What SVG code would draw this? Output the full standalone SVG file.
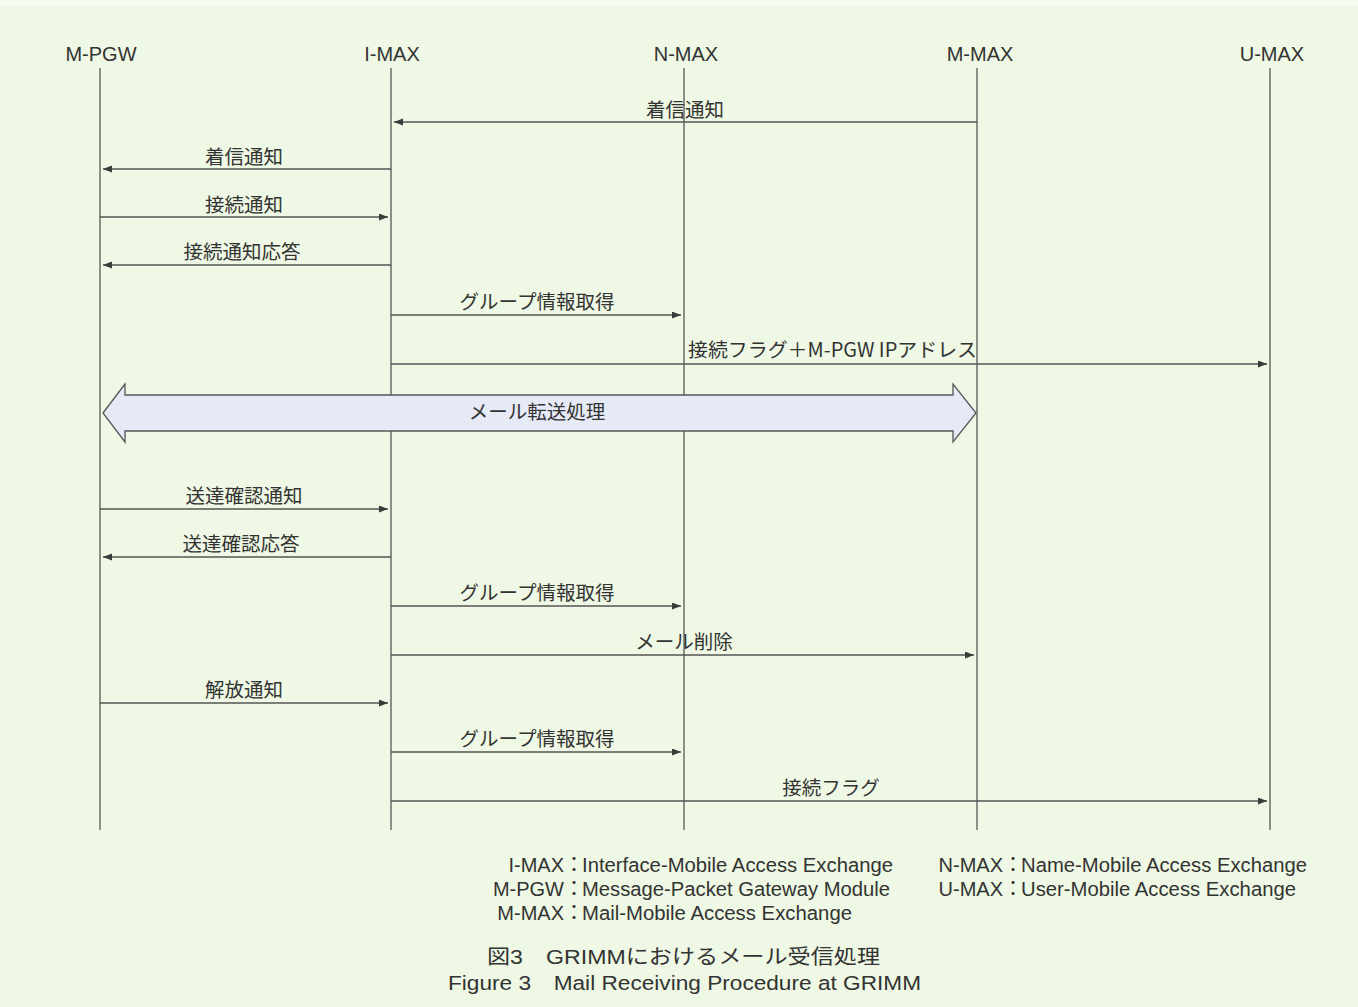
<svg xmlns="http://www.w3.org/2000/svg" width="1358" height="1007" viewBox="0 0 1358 1007">
<defs>
<marker id="ah" markerUnits="userSpaceOnUse" markerWidth="10" markerHeight="8" refX="9" refY="3.5" orient="auto">
<path d="M0,0 L9,3.5 L0,7 z" fill="#3a3a3a"/>
</marker>
<style>
.bg{fill:#eef8e4}
.life{stroke:#555;stroke-width:1.3;fill:none}
.msg{stroke:#555;stroke-width:1.3;fill:none;marker-end:url(#ah)}
.hdr{font-family:"Liberation Sans","Noto Sans CJK JP",sans-serif;font-size:20px;fill:#333;text-anchor:middle}
.lbl{font-family:"Noto Sans CJK JP","Liberation Sans",sans-serif;font-size:19.5px;fill:#333;text-anchor:middle}
.leg{font-family:"Liberation Sans","Noto Sans CJK JP",sans-serif;font-size:20px;fill:#333}
.cap{font-family:"Liberation Sans","Noto Sans CJK JP",sans-serif;font-size:20px;fill:#333}
.band{fill:#e6e9f6;stroke:#555;stroke-width:1.3}
</style>
</defs>
<rect class="bg" x="0" y="0" width="1358" height="1007"/>
<rect x="0" y="0" width="1358" height="6" fill="#f6fbf0"/>

<g id="node-mpgw">
<text class="hdr" x="101" y="61">M-PGW</text>
<line class="life" x1="100" y1="68" x2="100" y2="830"/>
</g>
<g id="node-imax">
<text class="hdr" x="392" y="61">I-MAX</text>
<line class="life" x1="391" y1="68" x2="391" y2="830"/>
</g>
<g id="node-nmax">
<text class="hdr" x="686" y="61">N-MAX</text>
<line class="life" x1="684" y1="68" x2="684" y2="830"/>
</g>
<g id="node-mmax">
<text class="hdr" x="980" y="61">M-MAX</text>
<line class="life" x1="977" y1="68" x2="977" y2="830"/>
</g>
<g id="node-umax">
<text class="hdr" x="1272" y="61">U-MAX</text>
<line class="life" x1="1270" y1="68" x2="1270" y2="830"/>
</g>

<g id="connectors">
<line class="msg" x1="977" y1="122" x2="394" y2="122"/>
<text class="lbl" x="685" y="117">着信通知</text>

<line class="msg" x1="391" y1="169" x2="103" y2="169"/>
<text class="lbl" x="244" y="164">着信通知</text>

<line class="msg" x1="100" y1="217" x2="388" y2="217"/>
<text class="lbl" x="244" y="212">接続通知</text>

<line class="msg" x1="391" y1="265" x2="103" y2="265"/>
<text class="lbl" x="242" y="259">接続通知応答</text>

<line class="msg" x1="391" y1="315" x2="681" y2="315"/>
<text class="lbl" x="537" y="309">グループ情報取得</text>

<line class="msg" x1="391" y1="364" x2="1267" y2="364"/>
<text class="lbl" x="688" y="357" style="text-anchor:start" textLength="289" lengthAdjust="spacingAndGlyphs">接続フラグ＋M-PGW IPアドレス</text>

<polygon class="band" points="103,413 125,384 125,395 953,395 953,384 976,413 953,442 953,431 125,431 125,442"/>
<text class="lbl" x="537" y="419">メール転送処理</text>

<line class="msg" x1="100" y1="509" x2="388" y2="509"/>
<text class="lbl" x="244" y="503">送達確認通知</text>

<line class="msg" x1="391" y1="557" x2="103" y2="557"/>
<text class="lbl" x="241" y="551">送達確認応答</text>

<line class="msg" x1="391" y1="606" x2="681" y2="606"/>
<text class="lbl" x="537" y="600">グループ情報取得</text>

<line class="msg" x1="391" y1="655" x2="974" y2="655"/>
<text class="lbl" x="684" y="649">メール削除</text>

<line class="msg" x1="100" y1="703" x2="388" y2="703"/>
<text class="lbl" x="244" y="697">解放通知</text>

<line class="msg" x1="391" y1="752" x2="681" y2="752"/>
<text class="lbl" x="537" y="746">グループ情報取得</text>

<line class="msg" x1="391" y1="801" x2="1267" y2="801"/>
<text class="lbl" x="831" y="795">接続フラグ</text>
</g>

<g id="legend">
<text class="leg" x="584" y="872" text-anchor="end">I-MAX：</text>
<text class="leg" x="582" y="872" textLength="311" lengthAdjust="spacingAndGlyphs">Interface-Mobile Access Exchange</text>
<text class="leg" x="584" y="896" text-anchor="end">M-PGW：</text>
<text class="leg" x="582" y="896" textLength="308" lengthAdjust="spacingAndGlyphs">Message-Packet Gateway Module</text>
<text class="leg" x="584" y="920" text-anchor="end">M-MAX：</text>
<text class="leg" x="582" y="920" textLength="270" lengthAdjust="spacingAndGlyphs">Mail-Mobile Access Exchange</text>
<text class="leg" x="1023" y="872" text-anchor="end">N-MAX：</text>
<text class="leg" x="1021" y="872" textLength="286" lengthAdjust="spacingAndGlyphs">Name-Mobile Access Exchange</text>
<text class="leg" x="1023" y="896" text-anchor="end">U-MAX：</text>
<text class="leg" x="1021" y="896" textLength="275" lengthAdjust="spacingAndGlyphs">User-Mobile Access Exchange</text>
</g>

<g id="caption">
<text class="cap" x="487" y="964" textLength="393" lengthAdjust="spacingAndGlyphs">図3　GRIMMにおけるメール受信処理</text>
<text class="cap" x="448" y="990" textLength="473" lengthAdjust="spacingAndGlyphs">Figure 3　Mail Receiving Procedure at GRIMM</text>
</g>
</svg>
